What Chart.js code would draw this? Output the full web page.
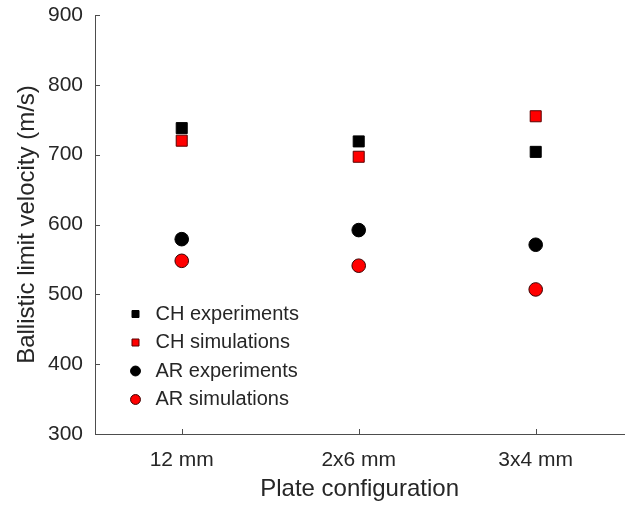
<!DOCTYPE html>
<html>
<head>
<meta charset="utf-8">
<script src="https://cdn.jsdelivr.net/npm/chart.js@4.4.0/dist/chart.umd.min.js"></script>
<style>
  html, body { margin: 0; padding: 0; background: #fff; }
</style>
</head>
<body>
<canvas id="chart" width="633" height="508"></canvas>
<script>
// Plate configurations and ballistic limit velocities (m/s)
const configs = ['12 mm', '2x6 mm', '3x4 mm'];
const chExperiments = [738, 719, 704];
const chSimulations = [720, 697, 755];
const arExperiments = [579, 592, 571];
const arSimulations = [548, 541, 507];
const yTicks = [300, 400, 500, 600, 700, 800, 900];

const textColor = '#262626';
const axisColor = '#4d4d4d';
const fontFamily = '"Liberation Sans", Arial, sans-serif';

const toPoints = vals => vals.map((v, i) => ({ x: i + 1, y: v }));

// MATLAB-style inward tick marks
const inwardTicks = {
    id: 'inwardTicks',
    afterDraw(chart) {
        const { ctx, chartArea, scales } = chart;
        ctx.save();
        ctx.strokeStyle = axisColor;
        ctx.lineWidth = 1;
        ctx.beginPath();
        yTicks.forEach(v => {
            const y = Math.round(scales.y.getPixelForValue(v)) + 0.5;
            ctx.moveTo(chartArea.left, y);
            ctx.lineTo(chartArea.left + 5, y);
        });
        configs.forEach((c, i) => {
            const x = Math.round(scales.x.getPixelForValue(i + 1)) + 0.5;
            ctx.moveTo(x, chartArea.bottom);
            ctx.lineTo(x, chartArea.bottom - 5);
        });
        ctx.stroke();
        ctx.restore();
    }
};

// nudge the legend to where the original has it (inside the axes, lower left)
const legendShift = {
    id: 'legendShift',
    afterLayout(chart) {
        const lg = chart.legend;
        if (!lg) return;
        lg.left += 22; lg.right += 22;
        lg.top -= 1; lg.bottom -= 1;
    }
};

new Chart(document.getElementById('chart'), {
    type: 'scatter',
    data: {
        datasets: [
            { label: 'CH experiments', data: toPoints(chExperiments), pointStyle: 'rect', pointRadius: 7.8, pointHoverRadius: 7.8,
              backgroundColor: '#000000', borderColor: '#000000', borderWidth: 1 },
            { label: 'CH simulations', data: toPoints(chSimulations), pointStyle: 'rect', pointRadius: 7.8, pointHoverRadius: 7.8,
              backgroundColor: '#ff0000', borderColor: '#5a0000', borderWidth: 1 },
            { label: 'AR experiments', data: toPoints(arExperiments), pointStyle: 'circle', pointRadius: 6.8, pointHoverRadius: 6.8,
              backgroundColor: '#000000', borderColor: '#000000', borderWidth: 1 },
            { label: 'AR simulations', data: toPoints(arSimulations), pointStyle: 'circle', pointRadius: 6.8, pointHoverRadius: 6.8,
              backgroundColor: '#ff0000', borderColor: '#3a0000', borderWidth: 1 }
        ]
    },
    options: {
        responsive: false,
        animation: false,
        devicePixelRatio: 1,
        layout: { padding: { top: 15, left: 9, right: 0, bottom: 0 } },
        scales: {
            x: {
                type: 'linear',
                min: 0.51,
                max: 3.50,
                afterBuildTicks: scale => { scale.ticks = configs.map((c, i) => ({ value: i + 1 })); },
                afterFit: scale => { scale.height = 74; scale.paddingLeft = 0; scale.paddingRight = 0; },
                grid: { display: false, drawTicks: false },
                border: { display: true, color: axisColor, width: 1 },
                ticks: {
                    padding: 14,
                    color: textColor,
                    font: { family: fontFamily, size: 21 },
                    callback: v => configs[v - 1]
                },
                title: { display: true, text: 'Plate configuration', color: textColor,
                         font: { family: fontFamily, size: 24 }, padding: { top: 0, bottom: 4 } }
            },
            y: {
                min: 300,
                max: 900,
                afterBuildTicks: scale => { scale.ticks = yTicks.map(v => ({ value: v })); },
                afterFit: scale => { scale.width = 86; scale.paddingTop = 0; scale.paddingBottom = 0; },
                grid: { display: false, drawTicks: false },
                border: { display: true, color: axisColor, width: 1 },
                ticks: { padding: 12, color: textColor, font: { family: fontFamily, size: 21 } },
                title: { display: true, text: 'Ballistic limit velocity (m/s)', color: textColor,
                         font: { family: fontFamily, size: 24 }, padding: { top: 4, bottom: 4 } }
            }
        },
        plugins: {
            legend: {
                position: 'chartArea',
                align: 'end',
                labels: {
                    usePointStyle: true,
                    boxHeight: 7,
                    boxWidth: 20,
                    padding: 8.5,
                    color: textColor,
                    font: { family: fontFamily, size: 20 }
                }
            },
            tooltip: { enabled: false }
        }
    },
    plugins: [inwardTicks, legendShift]
});
</script>
</body>
</html>
